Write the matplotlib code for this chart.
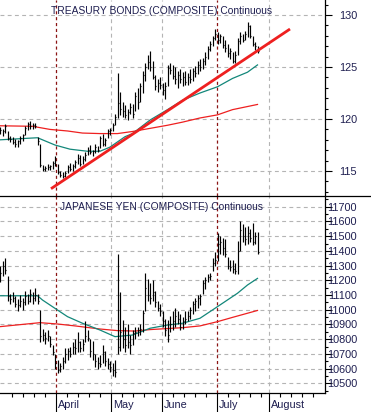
import matplotlib
matplotlib.use("Agg")
import matplotlib.pyplot as plt
import matplotlib.transforms as mtransforms
from matplotlib.lines import Line2D
from matplotlib.ticker import MultipleLocator
import numpy as np

plt.rcParams["font.family"] = ["Liberation Sans", "DejaVu Sans"]

# ── Data (daily bars, x = trading-day index) ──────────────────────────────────

tb_title = "TREASURY BONDS (COMPOSITE) Continuous"
jy_title = "JAPANESE YEN (COMPOSITE) Continuous"

tb_high = [119.2, 119.0, 119.5, 118.8, 118.4, 118.3, 118.1, 118.0, 118.4, 118.6,
           119.3, 119.7, 119.8, 119.6, 119.6, 118.3, 117.6, 115.6, 115.5, 115.7,
           115.6, 116.0, 116.4, 115.7, 115.0, 114.9, 115.0, 115.6, 115.8, 115.7,
           116.1, 116.6, 116.5, 116.4, 116.8, 117.3, 117.5, 117.0, 117.6, 117.4,
           118.4, 118.6, 118.2, 119.0, 119.1, 119.6, 120.5, 124.4, 122.6, 121.6,
           121.3, 121.0, 121.5, 121.4, 122.6, 123.0, 123.5, 124.6, 125.4, 126.2,
           126.5, 125.6, 124.2, 123.8, 124.0, 123.5, 123.6, 125.2, 125.4, 125.2,
           125.0, 124.6, 124.8, 124.5, 124.6, 124.4, 124.8, 124.9, 125.1, 125.6,
           125.8, 125.9, 126.4, 127.0, 127.5, 128.0, 128.7, 128.4, 128.2, 128.0,
           127.6, 127.2, 126.8, 126.4, 126.5, 127.8, 128.4, 128.2, 128.5, 129.3,
           129.0, 128.0, 127.4, 127.0]
tb_low = [118.6, 118.4, 118.7, 118.0, 117.8, 117.6, 117.3, 117.3, 117.6, 117.9,
          118.5, 118.9, 119.0, 119.0, 119.1, 117.5, 115.4, 115.0, 115.0, 115.1,
          115.1, 115.2, 115.5, 114.7, 114.4, 114.3, 114.4, 114.8, 115.0, 115.0,
          115.3, 115.7, 115.5, 115.7, 116.0, 116.5, 116.6, 116.4, 116.7, 116.8,
          117.2, 117.4, 117.4, 118.2, 118.5, 118.8, 119.4, 120.1, 120.4, 120.2,
          120.1, 119.9, 120.5, 120.1, 120.8, 121.0, 121.6, 122.5, 123.7, 124.8,
          124.6, 123.8, 122.8, 122.6, 122.9, 122.3, 121.9, 123.2, 124.3, 123.8,
          123.4, 123.0, 123.5, 123.2, 123.3, 123.3, 123.5, 123.7, 124.0, 124.3,
          124.6, 124.8, 125.2, 125.8, 126.5, 127.0, 127.6, 127.2, 127.3, 126.8,
          126.4, 126.0, 125.8, 125.4, 125.4, 126.2, 127.2, 127.4, 127.6, 127.9,
          127.8, 127.0, 126.6, 126.3]
tb_close = [118.9, 118.8, 119.3, 118.2, 118.1, 117.8, 117.6, 117.9, 118.2, 118.5,
            119.1, 119.5, 119.3, 119.4, 119.3, 117.9, 115.6, 115.2, 115.3, 115.4,
            115.5, 115.8, 115.6, 114.9, 114.6, 114.5, 114.8, 115.4, 115.2, 115.5,
            115.9, 116.3, 115.7, 116.2, 116.5, 117.0, 116.8, 116.9, 117.3, 117.0,
            118.2, 117.6, 118.0, 118.8, 118.9, 119.4, 120.2, 121.5, 121.0, 120.8,
            120.4, 120.7, 121.2, 120.5, 122.2, 121.6, 123.2, 124.2, 125.0, 125.5,
            125.0, 124.0, 123.2, 123.5, 123.3, 122.8, 123.2, 124.9, 124.7, 124.1,
            123.8, 124.2, 123.8, 124.0, 123.6, 124.0, 123.8, 124.6, 124.4, 125.2,
            125.0, 125.6, 126.0, 126.7, 127.2, 127.8, 128.2, 127.6, 128.0, 127.1,
            126.8, 126.3, 126.5, 125.6, 126.2, 127.5, 128.0, 127.6, 128.2, 128.9,
            128.0, 127.2, 127.0, 126.5]

tb_ma_short_x = [0, 15, 22, 28, 35, 40, 44, 50, 53, 60, 67, 73, 80, 87, 93, 99, 103]
tb_ma_short = [118.0, 118.2, 117.5, 117.1, 116.9, 116.9, 117.3, 118.3, 118.6, 119.9,
               120.9, 121.8, 122.5, 123.1, 123.9, 124.5, 125.2]
tb_ma_long_x = [0, 13, 20, 27, 33, 40, 47, 53, 60, 67, 73, 80, 87, 93, 103]
tb_ma_long = [119.35, 119.3, 119.0, 118.85, 118.65, 118.6, 118.6, 118.8, 119.1,
              119.4, 119.7, 120.1, 120.4, 120.9, 121.4]
tb_trend_x = [20.4, 116.0]
tb_trend = [113.3, 128.65]

jy_high = [11300, 11330, 11350, 11230, 11110, 11120, 11090, 11070, 11100, 11080,
           11130, 11110, 11140, 11120, 11150, 11110, 11000, 10870, 10850, 10860,
           10820, 10760, 10700, 10660, 10640, 10680, 10740, 10740, 10750, 10780,
           10800, 10850, 10790, 10800, 10925, 10860, 10800, 10790, 10700, 10680,
           10690, 10760, 10720, 10670, 10650, 10640, 10660, 11380, 11120, 10930,
           10880, 10900, 10830, 10860, 10880, 10880, 10900, 11000, 11250, 11210,
           11180, 11200, 11130, 11060, 11040, 10990, 10940, 10930, 10960, 10990,
           11010, 10990, 10970, 10950, 10990, 10990, 11020, 11060, 11080, 11100,
           11110, 11200, 11220, 11240, 11250, 11350, 11390, 11520, 11500, 11490,
           11480, 11360, 11340, 11340, 11320, 11470, 11600, 11580, 11560, 11570,
           11550, 11590, 11530, 11530]
jy_low = [11190, 11230, 11240, 11060, 11040, 11050, 11020, 10990, 11020, 11000,
          11030, 11040, 11050, 11040, 11060, 11040, 10780, 10790, 10770, 10790,
          10750, 10690, 10600, 10570, 10580, 10600, 10640, 10660, 10680, 10700,
          10700, 10710, 10710, 10720, 10780, 10790, 10680, 10660, 10610, 10600,
          10610, 10640, 10620, 10600, 10580, 10550, 10540, 10700, 10720, 10740,
          10710, 10740, 10700, 10760, 10800, 10820, 10830, 10850, 10990, 11060,
          11040, 11060, 11020, 10990, 10960, 10880, 10820, 10780, 10850, 10860,
          10880, 10900, 10860, 10870, 10900, 10920, 10940, 10970, 10990, 11010,
          11030, 11110, 11140, 11190, 11200, 11260, 11300, 11330, 11380, 11370,
          11360, 11280, 11260, 11250, 11240, 11240, 11400, 11460, 11440, 11450,
          11460, 11440, 11450, 11380]
jy_close = [11250, 11300, 11270, 11090, 11070, 11080, 11040, 11030, 11060, 11050,
            11090, 11060, 11110, 11080, 11100, 11060, 10820, 10830, 10810, 10820,
            10770, 10710, 10640, 10590, 10620, 10650, 10700, 10720, 10700, 10750,
            10740, 10780, 10740, 10770, 10820, 10810, 10720, 10700, 10650, 10640,
            10630, 10710, 10650, 10630, 10610, 10590, 10580, 10750, 10850, 10800,
            10760, 10780, 10760, 10840, 10850, 10860, 10870, 10980, 11150, 11100,
            11080, 11120, 11050, 11010, 10990, 10920, 10860, 10830, 10900, 10920,
            10960, 10940, 10880, 10920, 10940, 10960, 11000, 11040, 11060, 11080,
            11090, 11180, 11200, 11220, 11230, 11320, 11340, 11450, 11460, 11420,
            11380, 11300, 11290, 11280, 11260, 11400, 11540, 11500, 11480, 11520,
            11490, 11460, 11500, 11390]

jy_ma_short_x = [0, 15, 17, 23, 27, 33, 40, 46, 53, 60, 67, 73, 80, 87, 95, 99, 103]
jy_ma_short = [11095, 11095, 11066, 10998, 10953, 10908, 10862, 10817, 10828, 10874,
               10896, 10908, 10942, 11021, 11112, 11168, 11213]
jy_ma_long_x = [0, 16, 23, 30, 40, 47, 54, 60, 67, 73, 80, 87, 93, 103]
jy_ma_long = [10885, 10912, 10903, 10890, 10869, 10858, 10855, 10865, 10872, 10878,
              10890, 10919, 10948, 10995]

months = ["April", "May", "June", "July", "August"]
month_x = [22.4, 44.4, 64.8, 86.8, 107.6]
marked_months = ["April", "July"]

# ── Style ─────────────────────────────────────────────────────────────────────

_TXT = "#1e1e50"
_GRID = "#b4b4b4"
_MARK = "#8b1414"
_TEAL = "#13877a"
_RED = "#ee2020"

W, H = 371, 412
fig = plt.figure(figsize=(W / 100, H / 100), dpi=100)
ax_tb = fig.add_axes([0, 1 - 196 / H, 325 / W, 196 / H])
ax_jy = fig.add_axes([0, 1 - 393 / H, 325 / W, 197 / H])


def draw_bars(ax, hi, lo, cl):
    x = np.arange(len(hi))
    ax.vlines(x, lo, hi, color="black", lw=0.85, zorder=4)
    ax.hlines(cl, x, x + 0.5, color="black", lw=0.85, zorder=4)


def style_panel(ax, ylim, major, minor, title):
    ax.set_xlim(0, 130)
    ax.set_ylim(*ylim)
    ax.set_yticks(major, [str(v) for v in major], ha="right")
    ax.yaxis.set_minor_locator(MultipleLocator(minor))
    ax.yaxis.tick_right()
    ax.tick_params(axis="y", which="major", length=5, width=0.8, pad=18,
                   labelsize=7.8, labelcolor=_TXT, color="black")
    ax.tick_params(axis="y", which="minor", length=2.5, width=0.8, color="black")
    for v in major:
        ax.axhline(v, color=_GRID, lw=0.8, ls=(0, (3.5, 3)), zorder=1)
    for name, mx in zip(months, month_x):
        if name in marked_months:
            ax.axvline(mx, color=_MARK, lw=0.9, ls=(0, (2.5, 2.2)), zorder=2)
        elif name != "April":
            ax.axvline(mx, color=_GRID, lw=0.8, ls=(0, (3.5, 3)), zorder=1)
    for s in ("left", "top"):
        ax.spines[s].set_visible(False)
    ax.spines["right"].set_linewidth(0.9)
    ax.text(64.8, 0.944, title, transform=ax.get_xaxis_transform(),
            ha="center", va="center", fontsize=7.4, color=_TXT, zorder=6)


# ── Treasury bonds ────────────────────────────────────────────────────────────
draw_bars(ax_tb, tb_high, tb_low, tb_close)
ax_tb.plot(tb_ma_long_x, tb_ma_long, color=_RED, lw=0.9, zorder=3)
ax_tb.plot(tb_ma_short_x, tb_ma_short, color=_TEAL, lw=0.9, zorder=3)
ax_tb.plot(tb_trend_x, tb_trend, color=_RED, lw=2.0, zorder=5,
           solid_capstyle="butt")
style_panel(ax_tb, (112.6, 131.44), [115, 120, 125, 130], 1, tb_title)
ax_tb.spines["bottom"].set_visible(False)
ax_tb.tick_params(axis="x", which="both", bottom=False, labelbottom=False)

# ── Japanese yen ──────────────────────────────────────────────────────────────
draw_bars(ax_jy, jy_high, jy_low, jy_close)
ax_jy.plot(jy_ma_long_x, jy_ma_long, color=_RED, lw=0.9, zorder=3)
ax_jy.plot(jy_ma_short_x, jy_ma_short, color=_TEAL, lw=0.9, zorder=3)
style_panel(ax_jy, (10434, 11773), list(range(10500, 11701, 100)), 50, jy_title)
ax_jy.spines["bottom"].set_linewidth(0.9)

# month ticks: long major ticks, weekly minor ticks
minor_x = []
starts = [month_x[0] - 22.0] + month_x
for m in starts:
    for k in range(1, 6):
        p = m + 4.4 * k
        if 0 < p < 129.5 and all(abs(p - q) > 2 for q in month_x):
            minor_x.append(p)
ax_jy.set_xticks(month_x)
ax_jy.set_xticks(minor_x, minor=True)
ax_jy.tick_params(axis="x", which="major", length=14, width=0.8,
                  labelbottom=False, color="black")
ax_jy.tick_params(axis="x", which="minor", length=3, width=0.8, color="black")
for name, mx in zip(months, month_x):
    ax_jy.text(mx + 0.9, -0.061, name, transform=ax_jy.get_xaxis_transform(),
               ha="left", va="center", fontsize=7.8, color=_TXT)

# separator line across the whole figure
fig.add_artist(Line2D([0, 1], [1 - 196 / H] * 2, transform=fig.transFigure,
                      color="black", lw=0.9))

fig.savefig("out.png", dpi=100)
